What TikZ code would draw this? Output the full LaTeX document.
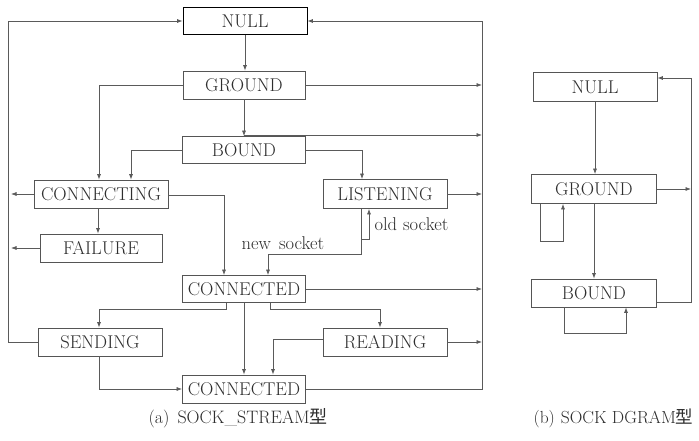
\documentclass[tikz,border=0pt]{standalone}
\usepackage{fontspec}
\newfontfamily\cjk{Noto Sans CJK SC}
\usetikzlibrary{arrows.meta,calc}
\definecolor{linec}{HTML}{5A5A5A}
\definecolor{boxc}{HTML}{555555}
\definecolor{txtc}{HTML}{2E2E2E}
\begin{document}
\begin{tikzpicture}[x=1pt,y=-1pt,
  lab/.style={font=\fontsize{18.5}{21}\selectfont, text=txtc},
  captext/.style={font=\fontsize{18}{21}\selectfont, text=txtc},
  box/.style={draw=boxc, line width=0.8pt, rectangle, inner sep=0pt, lab, minimum height=28pt},
  arr/.style={-{Latex[length=5.5pt,width=4pt]}, draw=linec, line width=0.7pt},
  ln/.style={draw=linec, line width=0.7pt}]
\useasboundingbox[fill=white] (0,0) rectangle (699,441);
% ---------- (a) SOCK_STREAM ----------
\node[box, draw=black, minimum width=124pt, minimum height=27pt] (NULL) at (245,21) {NULL};
\node[box, minimum width=122pt] (GROUND) at (244,85) {GROUND};
\node[box, minimum width=123pt, minimum height=27pt] (BOUND) at (244,150) {BOUND};
\node[box, minimum width=134pt] (CONNECTING) at (101,194) {CONNECTING};
\node[box, minimum width=124pt, minimum height=29pt] (LISTENING) at (385,194) {LISTENING};
\node[box, minimum width=122pt] (FAILURE) at (101,248) {FAILURE};
\node[box, minimum width=123pt, minimum height=27pt] (CONNA) at (244,289) {CONNECTED};
\node[box, minimum width=124pt] (SENDING) at (100,342) {SENDING};
\node[box, minimum width=124pt] (READING) at (385,342) {READING};
\node[box, minimum width=123pt] (CONNB) at (244,389) {CONNECTED};

\coordinate (lbus) at (8,0);
\coordinate (rbus) at (482,0);

% vertical main
\draw[arr] (NULL.south) -- (NULL.south |- GROUND.north);
\draw[arr] (GROUND.south) -- (GROUND.south |- BOUND.north);
\coordinate (gbj) at (244,135);
\draw[arr] (gbj) -- (gbj -| rbus);
\draw[arr] (GROUND.east) -- (GROUND.east -| rbus);
% to CONNECTING
\draw[arr] (GROUND.west) -| ([xshift=-2pt]CONNECTING.north);
\draw[arr] (BOUND.west) -| ([xshift=30pt]CONNECTING.north);
% to LISTENING
\draw[arr] (BOUND.east) -| ([xshift=-23pt]LISTENING.north);
\draw[arr] (LISTENING.east) -- (LISTENING.east -| rbus);
% CONNECTING outputs
\draw[arr] (CONNECTING.west) -- ([xshift=3pt]CONNECTING.west -| lbus);
\draw[arr] ([xshift=-3pt]CONNECTING.south) -- ([xshift=-3pt]CONNECTING.south |- FAILURE.north);
\draw[arr] ([yshift=-1pt]CONNECTING.east) -| ([xshift=-20pt]CONNA.north);
\draw[arr] (FAILURE.west) -- ([xshift=3pt]FAILURE.west -| lbus);
% LISTENING sockets
\coordinate (lsA) at ([xshift=-24pt]LISTENING.south);
\coordinate (lsB) at ([xshift=-16pt]LISTENING.south);
\coordinate (osk) at ($(lsA)+(0,30)$);
\draw[arr] (lsA) -- ($(lsA)+(0,45)$) -| ([xshift=24pt]CONNA.north);
\draw[arr] (osk) -- (osk -| lsB) -- (lsB);
\node[lab, anchor=west] (oldsock) at (371,224) {old\hspace{6pt}socket};
\node[lab] (newsock) at (283,243) {new\hspace{8pt}socket};
% CONNECTED outputs
\draw[arr] (CONNA.east) -- (CONNA.east -| rbus);
\draw[arr] ([xshift=-18pt]CONNA.south) -- ++(0,6) -| ([xshift=-1pt]SENDING.north);
\draw[arr] (CONNA.south) -- (CONNA.south |- CONNB.north);
\draw[arr] ([xshift=26pt]CONNA.south) -- ++(0,6) -| ([xshift=-5pt]READING.north);
\draw[arr] ([yshift=3pt]READING.west) -| ([xshift=29pt]CONNB.north);
\draw[arr] (READING.east) -- (READING.east -| rbus);
\draw[arr] ([xshift=-1pt]SENDING.south) |- (CONNB.west);
% buses back to NULL
\draw[arr] (SENDING.west) -| ($(lbus)+(0,21)$) -- (NULL.west);
\draw[arr] (CONNB.east) -| ($(rbus)+(0,21)$) -- (NULL.east);
\node[captext, anchor=west] (capa) at (145,418) {(a)\hspace{8pt}SOCK\_STREAM{\cjk 型}};

% ---------- (b) SOCK_DGRAM ----------
\node[box, minimum width=124pt, minimum height=29pt] (RNULL) at (595,87) {NULL};
\node[box, minimum width=125pt, minimum height=29pt] (RGROUND) at (594,189) {GROUND};
\node[box, minimum width=125pt] (RBOUND) at (594,293) {BOUND};
\coordinate (rrbus) at (691,0);
\draw[arr] (RNULL.south) -- (RNULL.south |- RGROUND.north);
\draw[arr] (RGROUND.south) -- (RGROUND.south |- RBOUND.north);
\draw[arr] (RGROUND.east) -- (RGROUND.east -| rrbus);
\draw[arr] ([yshift=-9pt]RBOUND.east) -| ($(rrbus)+(0,78)$) -- ([yshift=9pt]RNULL.east);
\draw[arr] ([xshift=-54pt]RGROUND.south) -- ++(0,37) -| ([xshift=-31pt]RGROUND.south);
\draw[arr] ([xshift=-30pt]RBOUND.south) -- ++(0,26) -| ([xshift=32pt]RBOUND.south);
\node[captext, anchor=east, font=\fontsize{17.5}{21}\selectfont] (capb) at (697,418) {(b)\hspace{6pt}SOCK DGRAM{\cjk 型}};
\end{tikzpicture}
\end{document}
